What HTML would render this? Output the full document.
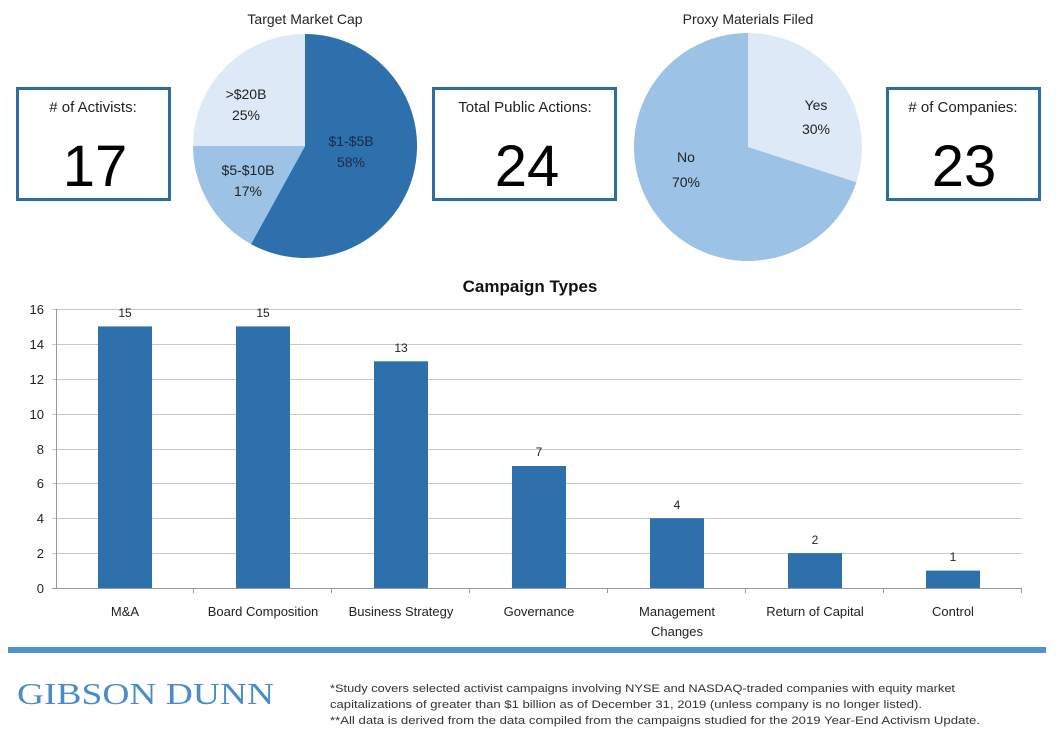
<!DOCTYPE html>
<html><head><meta charset="utf-8"><style>
html,body{margin:0;padding:0;background:#fff}
svg{display:block}
text{font-family:"Liberation Sans",sans-serif}
</style></head><body>
<svg width="1058" height="754" viewBox="0 0 1058 754" xmlns="http://www.w3.org/2000/svg">
<rect x="17.5" y="88.5" width="152" height="111" fill="#fff" stroke="#2e6da4" stroke-width="3"/>
<text x="93" y="112" font-size="15" text-anchor="middle" fill="#222">#  of Activists:</text>
<text x="95" y="186" font-size="58" text-anchor="middle" fill="#000">17</text>
<rect x="433.5" y="88.5" width="182" height="111" fill="#fff" stroke="#2e6da4" stroke-width="3"/>
<text x="525" y="112" font-size="15" text-anchor="middle" fill="#222">Total Public Actions:</text>
<text x="527" y="186" font-size="58" text-anchor="middle" fill="#000">24</text>
<rect x="887.5" y="88.5" width="152" height="111" fill="#fff" stroke="#2e6da4" stroke-width="3"/>
<text x="963" y="112" font-size="15" text-anchor="middle" fill="#222"># of Companies:</text>
<text x="964" y="186" font-size="58" text-anchor="middle" fill="#000">23</text>

<text x="305" y="24" font-size="14" text-anchor="middle" fill="#222">Target Market Cap</text>
<path d="M305,146 L305,34 A112,112 0 1,1 251,244.1 Z" fill="#2e70ab"/>
<path d="M305,146 L251,244.1 A112,112 0 0,1 193,146 Z" fill="#9cc3e5"/>
<path d="M305,146 L193,146 A112,112 0 0,1 305,34 Z" fill="#dde9f6"/>
<text x="246" y="99" font-size="14" text-anchor="middle" fill="#222">&gt;$20B</text>
<text x="246" y="120" font-size="14" text-anchor="middle" fill="#222">25%</text>
<text x="248" y="175" font-size="14" text-anchor="middle" fill="#222">$5-$10B</text>
<text x="248" y="196" font-size="14" text-anchor="middle" fill="#222">17%</text>
<text x="351" y="146" font-size="14" text-anchor="middle" fill="#1a2a44">$1-$5B</text>
<text x="351" y="167" font-size="14" text-anchor="middle" fill="#1a2a44">58%</text>

<text x="748" y="24" font-size="14" text-anchor="middle" fill="#222">Proxy Materials Filed</text>
<path d="M748,147 L748,33 A114,114 0 0,1 856.4,182.2 Z" fill="#dde9f6"/>
<path d="M748,147 L856.4,182.2 A114,114 0 1,1 748,33 Z" fill="#9cc3e5"/>
<text x="816" y="110" font-size="14" text-anchor="middle" fill="#222">Yes</text>
<text x="816" y="134" font-size="14" text-anchor="middle" fill="#222">30%</text>
<text x="686" y="162" font-size="14" text-anchor="middle" fill="#222">No</text>
<text x="686" y="187" font-size="14" text-anchor="middle" fill="#222">70%</text>

<text x="530" y="292" font-size="17" font-weight="bold" text-anchor="middle" fill="#111">Campaign Types</text>
<g stroke="#c8c8c8" stroke-width="1">
<line x1="52" y1="309.5" x2="1022" y2="309.5"/>
<line x1="52" y1="344.5" x2="1022" y2="344.5"/>
<line x1="52" y1="379.5" x2="1022" y2="379.5"/>
<line x1="52" y1="414.5" x2="1022" y2="414.5"/>
<line x1="52" y1="449.5" x2="1022" y2="449.5"/>
<line x1="52" y1="483.5" x2="1022" y2="483.5"/>
<line x1="52" y1="518.5" x2="1022" y2="518.5"/>
<line x1="52" y1="553.5" x2="1022" y2="553.5"/>
</g>
<g stroke="#999" stroke-width="1">
<line x1="56.5" y1="309" x2="56.5" y2="588"/>
<line x1="52" y1="588.5" x2="1022" y2="588.5"/>
<line x1="193.5" y1="588" x2="193.5" y2="593"/>
<line x1="331.5" y1="588" x2="331.5" y2="593"/>
<line x1="469.5" y1="588" x2="469.5" y2="593"/>
<line x1="607.5" y1="588" x2="607.5" y2="593"/>
<line x1="745.5" y1="588" x2="745.5" y2="593"/>
<line x1="883.5" y1="588" x2="883.5" y2="593"/>
<line x1="1021.5" y1="588" x2="1021.5" y2="593"/>
</g>
<g font-size="13" text-anchor="end" fill="#222">
<text x="44" y="314">16</text><text x="44" y="349">14</text><text x="44" y="384">12</text>
<text x="44" y="419">10</text><text x="44" y="454">8</text><text x="44" y="488">6</text>
<text x="44" y="523">4</text><text x="44" y="558">2</text><text x="44" y="593">0</text>
</g>
<g fill="#2e70ab">
<rect x="98" y="326.4" width="54" height="261.6"/>
<rect x="236" y="326.4" width="54" height="261.6"/>
<rect x="374" y="361.3" width="54" height="226.7"/>
<rect x="512" y="466" width="54" height="122"/>
<rect x="650" y="518.2" width="54" height="69.8"/>
<rect x="788" y="553.1" width="54" height="34.9"/>
<rect x="926" y="570.6" width="54" height="17.4"/>
</g>
<g font-size="12" text-anchor="middle" fill="#222">
<text x="125" y="317">15</text><text x="263" y="317">15</text><text x="401" y="352">13</text>
<text x="539" y="456">7</text><text x="677" y="509">4</text><text x="815" y="544">2</text><text x="953" y="561">1</text>
</g>
<g font-size="13" text-anchor="middle" fill="#222">
<text x="125" y="616">M&amp;A</text>
<text x="263" y="616">Board Composition</text>
<text x="401" y="616">Business Strategy</text>
<text x="539" y="616">Governance</text>
<text x="677" y="616">Management</text>
<text x="677" y="636">Changes</text>
<text x="815" y="616">Return of Capital</text>
<text x="953" y="616">Control</text>
</g>

<rect x="8" y="647" width="1038" height="6" fill="#5592cc"/>
<text x="17" y="704" style="font-family:'Liberation Serif',serif" font-size="31" fill="#4a8ccb" textLength="257" lengthAdjust="spacingAndGlyphs">GIBSON DUNN</text>
<g font-size="11" fill="#333">
<text x="330" y="692" textLength="625" lengthAdjust="spacingAndGlyphs">*Study covers selected activist campaigns involving NYSE and NASDAQ-traded  companies with equity market</text>
<text x="330" y="708" textLength="592" lengthAdjust="spacingAndGlyphs">capitalizations of greater than $1 billion as of December  31, 2019 (unless company is no longer listed).</text>
<text x="330" y="724" textLength="650" lengthAdjust="spacingAndGlyphs">**All data is derived from the data compiled from the campaigns studied for the  2019 Year-End Activism Update.</text>
</g>
</svg>
</body></html>
